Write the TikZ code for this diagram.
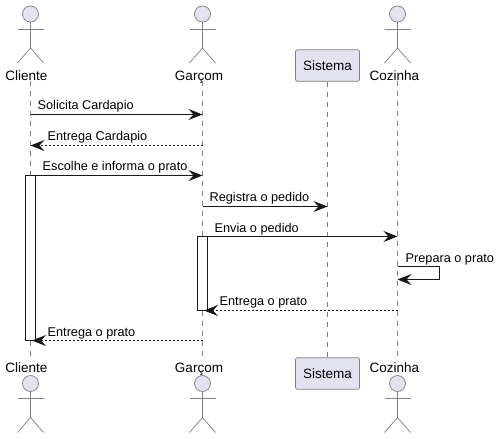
\documentclass[tikz,border=0pt]{standalone}
\usepackage{fontspec}
\setmainfont{Liberation Sans}
\usetikzlibrary{arrows.meta, positioning}
\definecolor{actorfill}{HTML}{E2E2F0}
\definecolor{actorline}{HTML}{7F7F7F}
\definecolor{lifeline}{HTML}{7F7F7F}
\definecolor{ink}{HTML}{181818}
\tikzstyle{head} = [circle, minimum size=16pt, inner sep=0pt, draw=actorline, fill=actorfill, line width=0.7pt]
\tikzstyle{limb} = [draw=actorline, line width=0.7pt]
\tikzstyle{actorname} = [inner sep=0pt, text=black, font=\fontsize{13.5}{15}\selectfont, anchor=base]
\tikzstyle{partbox} = [rectangle, rounded corners=2pt, minimum width=64pt, minimum height=31.5pt, inner sep=0pt, draw=actorline, fill=actorfill, line width=0.7pt, font=\fontsize{13.5}{15}\selectfont]
\tikzstyle{life} = [draw=lifeline, line width=0.7pt, dash pattern=on 5pt off 5pt]
\tikzstyle{activation} = [rectangle, minimum width=10pt, inner sep=0pt, draw=ink, fill=white, line width=0.9pt]
\tikzstyle{msg} = [draw=ink, line width=0.9pt, -{Stealth[length=14pt,width=11pt,inset=5pt]}]
\tikzstyle{reply} = [msg, dash pattern=on 2pt off 2pt]
\tikzstyle{msgtext} = [inner sep=0pt, anchor=base west, text=black, font=\fontsize{12.7}{14}\selectfont]
\newcommand{\stickman}[3]{% name, x, y of the head
  \node (#1) [head] at (#2,#3) {};
  \coordinate (#1hip) at (#2,#3+34);
  \draw [limb] (#1) -- (#1hip);
  \draw [limb] (#2-13,#3+15) -- (#2+13,#3+15);
  \draw [limb] (#2-13,#3+49) -- (#1hip) -- (#2+13,#3+49);
}
\begin{document}
\begin{tikzpicture}[x=1pt, y=-1pt]
\useasboundingbox (0,0) rectangle (499,439);

% top row
\stickman{cliTop}{30.5}{14}
\stickman{garTop}{202.5}{14}
\stickman{cozTop}{397.5}{14}
\node (cliName) [actorname] at (26.5,80) {Cliente};
\node (garName) [actorname] at (199,80) {Garçom};
\node (sisTop) [partbox] at (327.5,65.5) {Sistema};
\node (cozName) [actorname] at (394.5,80) {Cozinha};

% bottom row
\node (cliBot) [actorname] at (26.5,372) {Cliente};
\node (garBot) [actorname] at (199,372) {Garçom};
\node (sisBot) [partbox] at (327.5,373.5) {Sistema};
\node (cozBot) [actorname] at (394.5,372) {Cozinha};
\stickman{cliFoot}{30.5}{383.5}
\stickman{garFoot}{202.5}{383.5}
\stickman{cozFoot}{397.5}{383.5}

% lifelines
\coordinate (cliA) at (30.5,81);
\coordinate (cliZ) at (30.5,357);
\coordinate (garA) at (202.5,81);
\coordinate (garZ) at (202.5,357);
\coordinate (cozA) at (397.5,81);
\coordinate (cozZ) at (397.5,357);
\draw [life] (cliA) -- (cliZ);
\draw [life] (garA) -- (garZ);
\draw [life] (sisTop) -- (sisBot);
\draw [life] (cozA) -- (cozZ);

% activations
\node (cliBar) [activation, minimum height=165pt] at (30.5,257.5) {};
\node (garBar) [activation, minimum height=74pt] at (202.5,273) {};

% message levels
\foreach \n/\y in {a/114.5,b/145.5,c/175.5,d/206.5,e/236.5,f/310.5,g/340.5}{
  \coordinate (cli\n) at (30.5,\y);
  \coordinate (gar\n) at (202.5,\y);
  \coordinate (sis\n) at (327.5,\y);
  \coordinate (coz\n) at (397.5,\y);
}
\coordinate (barC) at (35.5,175.5);
\coordinate (barE) at (207.5,236.5);
\coordinate (barF) at (204,310.5);
\coordinate (barG) at (32,340.5);
\coordinate (selfA) at (397.5,266.5);
\coordinate (selfB) at (439.5,266.5);
\coordinate (selfC) at (439.5,279.5);
\coordinate (selfD) at (397.5,279.5);

% messages
\draw [msg] (clia) -- (gara);
\draw [reply] (garb) -- (clib);
\draw [msg] (barC) -- (garc);
\draw [msg] (gard) -- (sisd);
\draw [msg] (barE) -- (coze);
\draw [msg] (selfA) -- (selfB) -- (selfC) -- (selfD);
\draw [reply] (cozf) -- (barF);
\draw [reply] (garg) -- (barG);

% labels
\node (solicita) [msgtext] at (37.5,109.5) {Solicita Cardapio};
\node (entregaC) [msgtext] at (47.5,140) {Entrega Cardapio};
\node (escolhe) [msgtext] at (42.5,170) {Escolhe e informa o prato};
\node (registra) [msgtext] at (209.5,201) {Registra o pedido};
\node (envia) [msgtext] at (214.5,232) {Envia o pedido};
\node (prepara) [msgtext] at (405.5,262) {Prepara o prato};
\node (entregaG) [msgtext] at (219.5,305) {Entrega o prato};
\node (entregaP) [msgtext] at (47.5,336) {Entrega o prato};
\end{tikzpicture}
\end{document}
